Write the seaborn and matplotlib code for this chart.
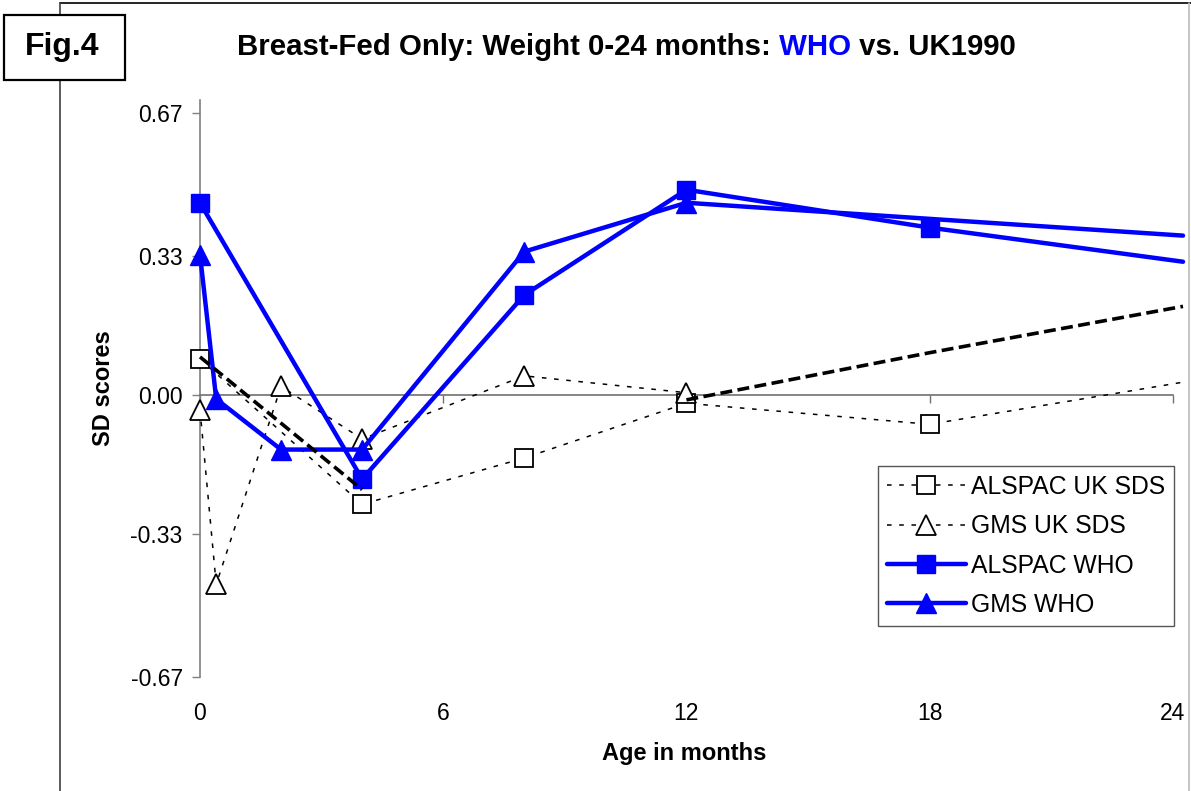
import matplotlib
matplotlib.use("Agg")
import matplotlib.pyplot as plt
import seaborn as sns
from matplotlib.lines import Line2D
from matplotlib.patches import Rectangle

# values (age in months, SD score)
age_alspac_uk = [0, 4, 8, 12, 18, 24.25]
sds_alspac_uk = [0.085, -0.26, -0.15, -0.02, -0.07, 0.03]

age_gms_uk = [0, 0.4, 2, 4, 8, 12]
sds_gms_uk = [-0.035, -0.45, 0.02, -0.105, 0.045, 0.005]

age_alspac_who = [0, 4, 8, 12, 18, 24.25]
sds_alspac_who = [0.456, -0.20, 0.237, 0.487, 0.397, 0.316]

age_gms_who = [0, 0.4, 2, 4, 8, 12, 24.25]
sds_gms_who = [0.333, -0.01, -0.13, -0.13, 0.34, 0.456, 0.378]

# unlabelled thick dashed line (two pieces)
age_ref_a = [0, 4]
sds_ref_a = [0.09, -0.225]
age_ref_b = [12, 18, 24.25]
sds_ref_b = [-0.012, 0.10, 0.21]

yticks = [-0.67, -0.33, 0.0, 0.33, 0.67]
ytick_labels = ["-0.67", "-0.33", "0.00", "0.33", "0.67"]
xticks = [0, 6, 12, 18, 24]

sns.set_style("white")
plt.rcParams["font.family"] = ["Liberation Sans", "DejaVu Sans"]
plt.rcParams["text.color"] = "black"
plt.rcParams["axes.labelcolor"] = "black"
plt.rcParams["xtick.color"] = "black"
plt.rcParams["ytick.color"] = "black"

W, H = 1191, 791
fig = plt.figure(figsize=(W / 100, H / 100), dpi=100)
ax = fig.add_axes([200 / W, 1 - 677 / H, 983 / W, 577 / H])

blue = "#0000FF"
uk_dash = (0, (3, 5))

sns.lineplot(x=age_alspac_uk, y=sds_alspac_uk, ax=ax, color="black", linewidth=1.1,
             linestyle=uk_dash, marker="s", markersize=13, markerfacecolor="white",
             markeredgecolor="black", markeredgewidth=1.3, markevery=slice(0, 5),
             label="ALSPAC UK SDS", zorder=3, clip_on=False)
sns.lineplot(x=age_gms_uk, y=sds_gms_uk, ax=ax, color="black", linewidth=1.1,
             linestyle=uk_dash, marker="^", markersize=14, markerfacecolor="white",
             markeredgecolor="black", markeredgewidth=1.3,
             label="GMS UK SDS", zorder=3, clip_on=False)
sns.lineplot(x=age_alspac_who, y=sds_alspac_who, ax=ax, color=blue, linewidth=3.2,
             marker="s", markersize=13.5, markerfacecolor=blue, markeredgecolor=blue,
             markeredgewidth=1, markevery=slice(0, 5), label="ALSPAC WHO", zorder=4,
             clip_on=False)
sns.lineplot(x=age_gms_who, y=sds_gms_who, ax=ax, color=blue, linewidth=3.2,
             marker="^", markersize=14, markerfacecolor=blue, markeredgecolor=blue,
             markeredgewidth=1, markevery=slice(0, 6), label="GMS WHO", zorder=4,
             clip_on=False)
for xs, ys in [(age_ref_a, sds_ref_a), (age_ref_b, sds_ref_b)]:
    sns.lineplot(x=xs, y=ys, ax=ax, color="black", linewidth=2.6,
                 linestyle=(0, (3.3, 1.5)), label="_nolegend_", zorder=5, clip_on=False)

ax.set_xlim(0, 24.25)
ax.set_ylim(-0.67, 0.70)

# x axis line crosses at zero, labels sit under the plot
ax.spines["top"].set_visible(False)
ax.spines["right"].set_visible(False)
ax.spines["bottom"].set_position(("data", 0))
ax.spines["bottom"].set_bounds(0, 24)
ax.spines["bottom"].set_color("#707070")
ax.spines["bottom"].set_linewidth(1.2)
ax.spines["left"].set_color("#808080")
ax.spines["left"].set_linewidth(1.2)
ax.set_xticks(xticks)
ax.tick_params(axis="x", direction="out", length=5.5, width=1, color="#707070",
               labelbottom=False, bottom=True)
ax.set_yticks(yticks)
ax.set_yticklabels(ytick_labels)
ax.tick_params(axis="y", direction="out", length=5.5, width=1, color="#808080",
               labelsize=16.5, labelcolor="black", pad=7, left=True)

sec = ax.secondary_xaxis("bottom")
sec.set_xticks(xticks)
sec.set_xticklabels([str(t) for t in xticks])
sec.tick_params(length=0, labelsize=16.5, labelcolor="black", pad=18)
sec.spines["bottom"].set_visible(False)

ax.set_xlabel("Age in months", fontsize=17, fontweight="bold", color="black")
ax.xaxis.set_label_coords(0.493, -0.113)
ax.set_ylabel("SD scores", fontsize=17, fontweight="bold", color="black")
ax.yaxis.set_label_coords(-0.0865, 0.5)

handles, labels = ax.get_legend_handles_labels()
leg = ax.legend(handles[:4], labels[:4], loc="upper left", bbox_to_anchor=(0.69, 0.365),
                borderaxespad=0, fontsize=17.8, handlelength=3.2, handletextpad=0.2,
                labelspacing=0.62, borderpad=0.35, fancybox=False, framealpha=1,
                edgecolor="#555555", labelcolor="black")
leg.get_frame().set_linewidth(1)

# title with blue "WHO"
t1 = fig.text(237 / W, 1 - 55 / H, "Breast-Fed Only: Weight 0-24 months:", fontsize=21.2,
              fontweight="bold", va="baseline", ha="left", color="black")
a2 = ax.annotate(" WHO", xy=(1, 0), xycoords=t1, fontsize=21.2, fontweight="bold",
                 color=blue, va="bottom", ha="left", annotation_clip=False)
a3 = ax.annotate(" vs. UK1990", xy=(1, 0), xycoords=a2, fontsize=21.2, fontweight="bold",
                 color="black", va="bottom", ha="left", annotation_clip=False)

# outer frame and Fig.4 box
fig.add_artist(Line2D([60 / W, 1], [1 - 3 / H, 1 - 3 / H], color="black", lw=1.2,
                      transform=fig.transFigure))
fig.add_artist(Line2D([60 / W, 60 / W], [0, 1 - 3 / H], color="#404040", lw=1.2,
                      transform=fig.transFigure))
fig.add_artist(Line2D([1189 / W, 1189 / W], [0, 1 - 3 / H], color="#bbbbbb", lw=1.2,
                      transform=fig.transFigure))
fig.add_artist(Rectangle((4 / W, 1 - 80 / H), 121 / W, 65 / H, facecolor="white",
                         edgecolor="black", lw=1.6, transform=fig.transFigure, zorder=5))
fig.text(62 / W, 1 - 47 / H, "Fig.4", fontsize=23, fontweight="bold", ha="center",
         va="center", zorder=6, color="black")

fig.savefig("out.png", dpi=100)
